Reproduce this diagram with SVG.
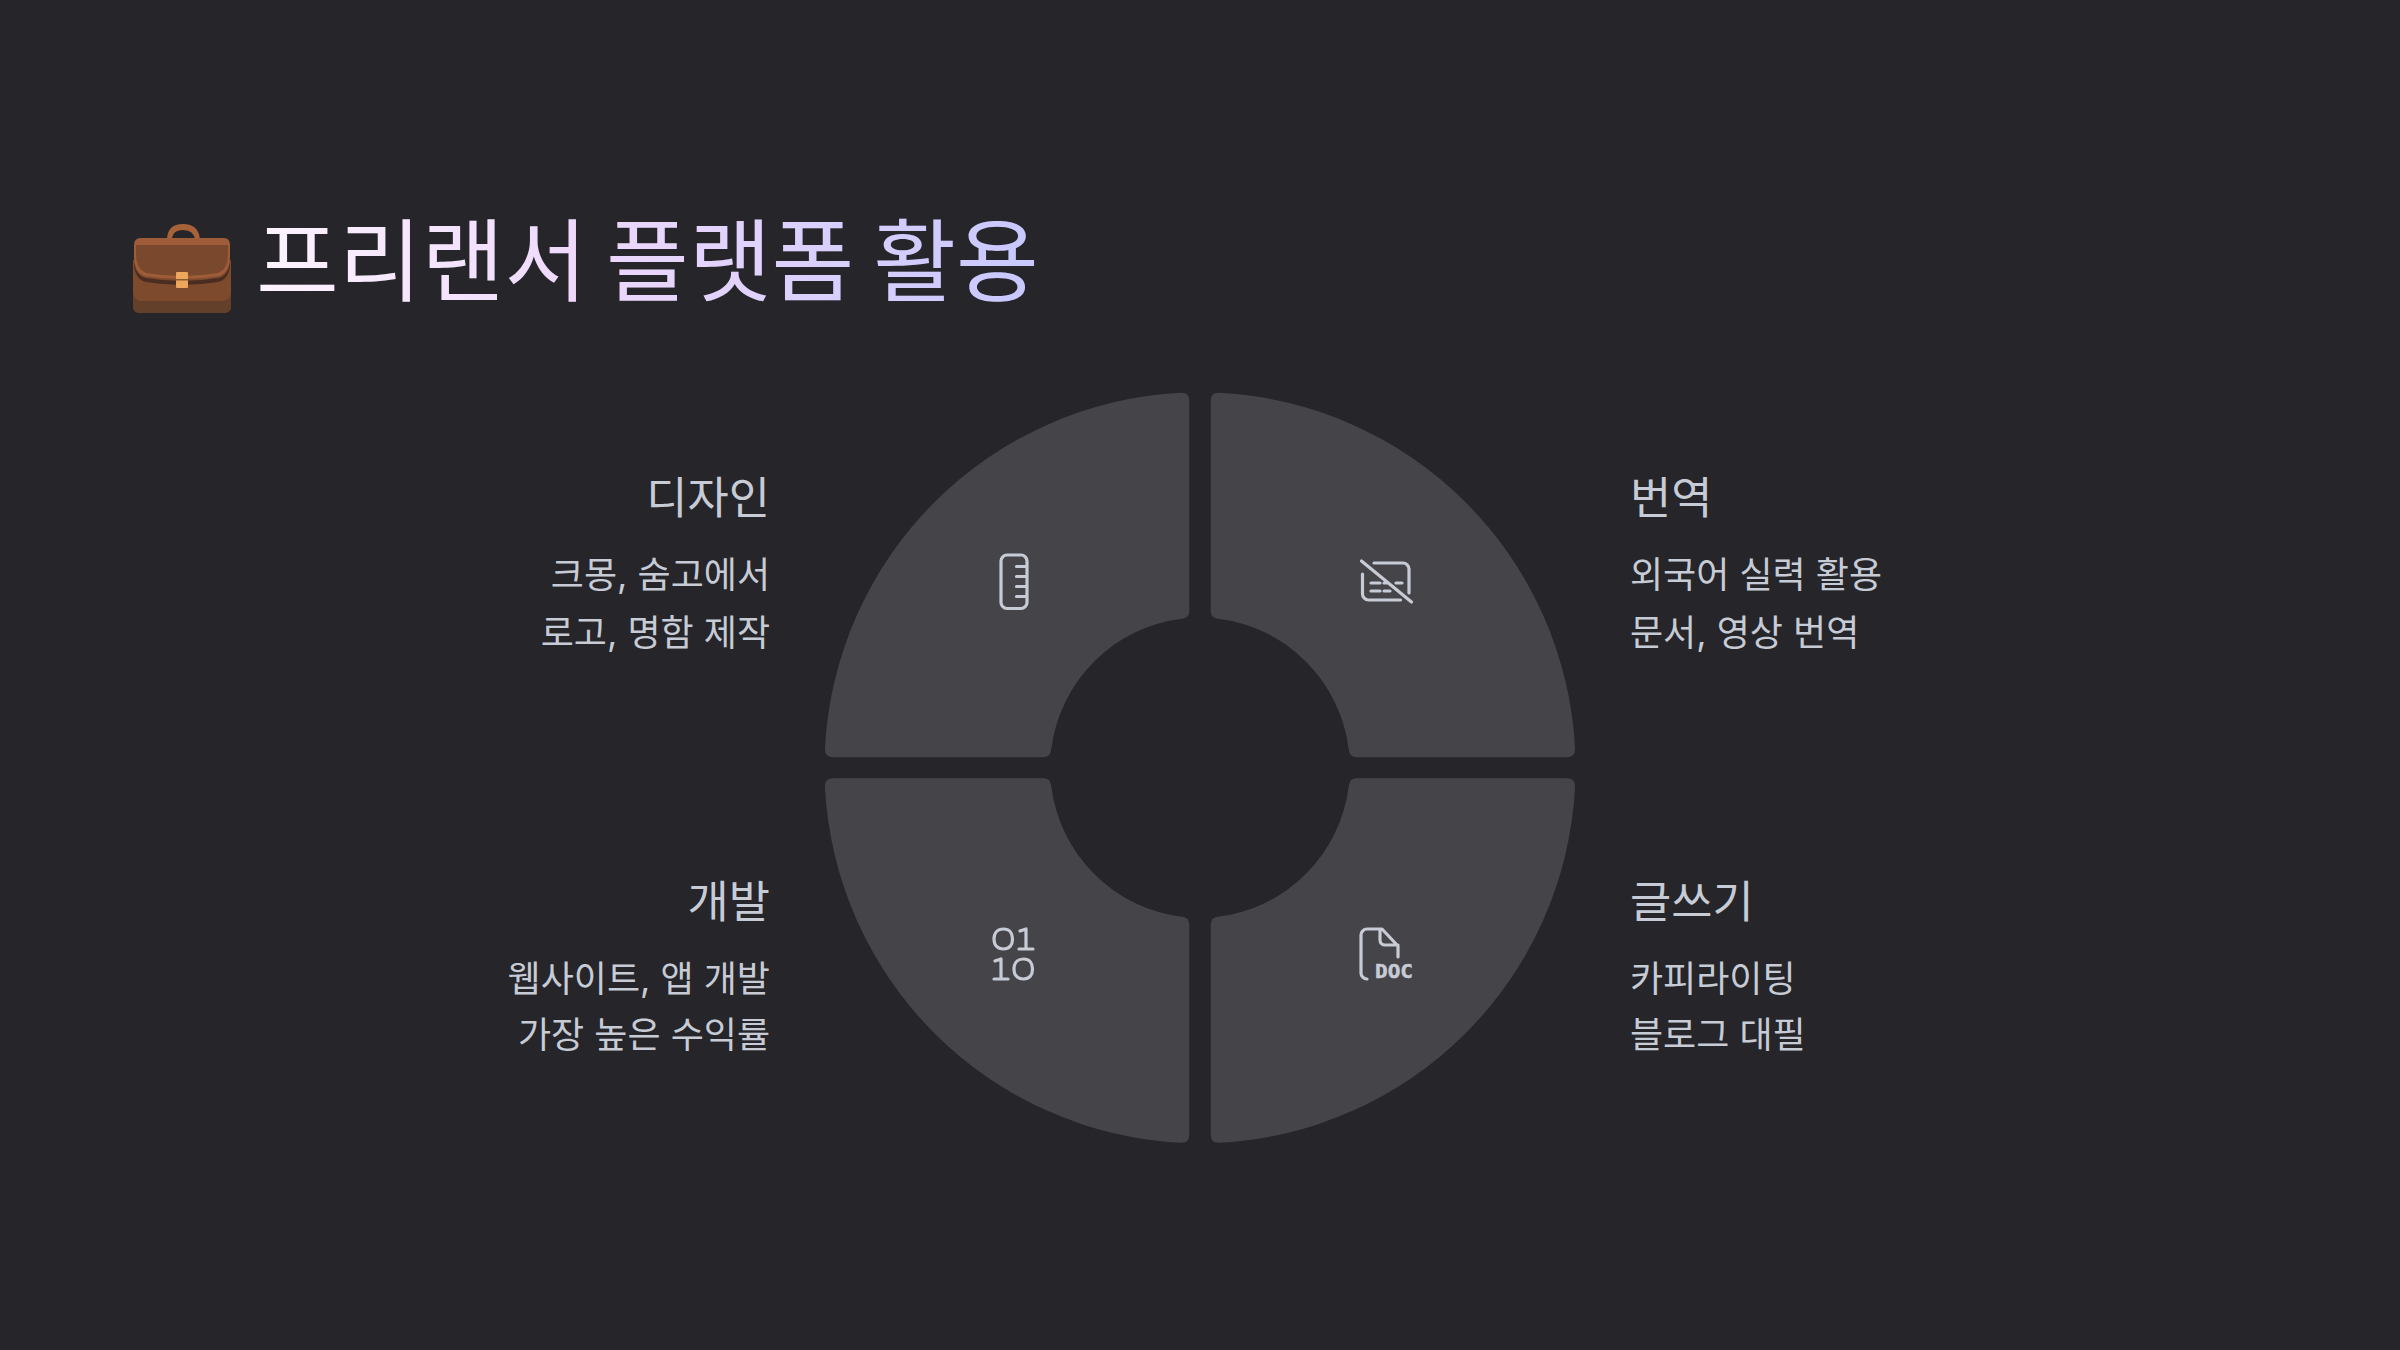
<svg xmlns="http://www.w3.org/2000/svg" width="2400" height="1350" viewBox="0 0 2400 1350">
<style>
text{font-family:Inter,"Noto Sans CJK KR",sans-serif}
.t{font-size:44.800px;fill:#c7cbd5}
.s{font-size:36px;fill:#c7cbd5}
.e{text-anchor:end}
.seg{fill:#454449}
.i{fill:none;stroke:#c7cbd5;stroke-width:3.200;stroke-linecap:round;stroke-linejoin:round}
</style>
<defs>
<linearGradient id="g" gradientUnits="userSpaceOnUse" x1="258" y1="0" x2="1035" y2="0">
<stop offset="0" stop-color="#fdf4ff"/><stop offset=".42" stop-color="#eed8fb"/><stop offset="1" stop-color="#c8c8ff"/>
</linearGradient>
<path id="q" class="seg" d="M1189.300 401V611Q1189.300 618 1182 618.800A150 150 0 0 0 1051.200 749.800Q1050.500 757.200 1043 757.200H833.500Q824.900 757.200 824.900 749A375.500 375.500 0 0 1 1181 392.800Q1189.300 392.300 1189.300 401Z"/>
</defs>
<rect width="2400" height="1350" fill="#25252a"/>
<g id="title">
<g id="briefcase">
<path d="M167 240q0-16 16-16t17 16h-5q-1-10-12-10t-11 10z" fill="#a8623a"/>
<path d="M133 262q0-3 3-3h92q3 0 3 3v44q0 7-7 7h-84q-7 0-7-7z" fill="#7d4a2e"/>
<path d="M133 290q0 11 8 11h82q8 0 8-11v16q0 7-7 7h-84q-7 0-7-7z" fill="#63402a"/>
<path d="M134 245q0-7 7-7h83q6 0 6 7v12q0 14-10 19-36 6-76 0-10-5-10-19z" fill="#9e5d38"/>
<path d="M136 245h92v10q0 14-10 18-36 6-72 0-10-4-10-18z" fill="#7a482c"/>
<path d="M134 262q2 14 12 16 36 6 72 0 10-2 12-16v4q-2 14-12 16-36 6-72 0-10-2-12-16z" fill="#4a2c20"/>
<rect x="176" y="272" width="12" height="16" rx="1" fill="#eda75d"/>
<rect x="176" y="279" width="12" height="1.500" fill="#8a5a30"/>
</g>
<text x="256" y="294" font-size="90" word-spacing="-6.500" fill="url(#g)">프리랜서 플랫폼 활용</text>
</g>
<g id="connectors"/>
<g id="seg-design">
<use href="#q"/>
<path class="i" d="M1007 555h14a6 6 0 0 1 6 6v41.500a6 6 0 0 1-6 6h-14a6 6 0 0 1-6-6v-41.500a6 6 0 0 1 6-6zM1016.500 566.500h10M1016.500 576.500h10M1016.500 586.500h10M1016.500 596.500h10"/>
<text class="t e" x="770" y="514">디자인</text>
<text class="s e" x="770" y="588">크몽, 숨고에서</text>
<text class="s e" x="770" y="646">로고, 명함 제작</text>
</g>
<g id="seg-translate">
<use href="#q" transform="matrix(-1 0 0 1 2400 0)"/>
<path class="i" d="M1361.500 561l50 41M1362.500 574v20a6 6 0 0 0 6 6h32M1374 563h29a6 6 0 0 1 6 6v24M1371 583h9M1384 583h3M1396 583h6M1371 591h9M1384 591h6"/>
<text class="t" x="1630" y="514">번역</text>
<text class="s" x="1630" y="588">외국어 실력 활용</text>
<text class="s" x="1630" y="646">문서, 영상 번역</text>
</g>
<g id="seg-dev">
<use href="#q" transform="matrix(1 0 0 -1 0 1535.500)"/>
<path class="i" d="M1003.500 929c6 0 9 4 9 10s-3 10-9 10-9.500-4-9.500-10 3.500-10 9.500-10zM1020 931l6-2v20M1019 949h14M995 961l6-2v20M994 979h14M1023.500 959c6 0 9 4 9 10s-3 10-9 10-9.500-4-9.500-10 3.500-10 9.500-10z"/>
<text class="t e" x="770" y="918">개발</text>
<text class="s e" x="770" y="992">웹사이트, 앱 개발</text>
<text class="s e" x="770" y="1048">가장 높은 수익률</text>
</g>
<g id="seg-write">
<use href="#q" transform="matrix(-1 0 0 -1 2400 1535.500)"/>
<path class="i" d="M1367 979a6 6 0 0 1-6-6V935a6 6 0 0 1 6-6h15l16 17v11M1380 929v11a5 5 0 0 0 5 5h13"/>
<text x="1375" y="978" font-size="20" font-weight="700" fill="#c7cbd5" stroke="#c7cbd5" stroke-width=".5" style="font-family:'DejaVu Sans Mono',monospace" textLength="38" lengthAdjust="spacingAndGlyphs">DOC</text>
<text class="t" x="1630" y="918">글쓰기</text>
<text class="s" x="1630" y="992">카피라이팅</text>
<text class="s" x="1630" y="1048">블로그 대필</text>
</g>
</svg>
